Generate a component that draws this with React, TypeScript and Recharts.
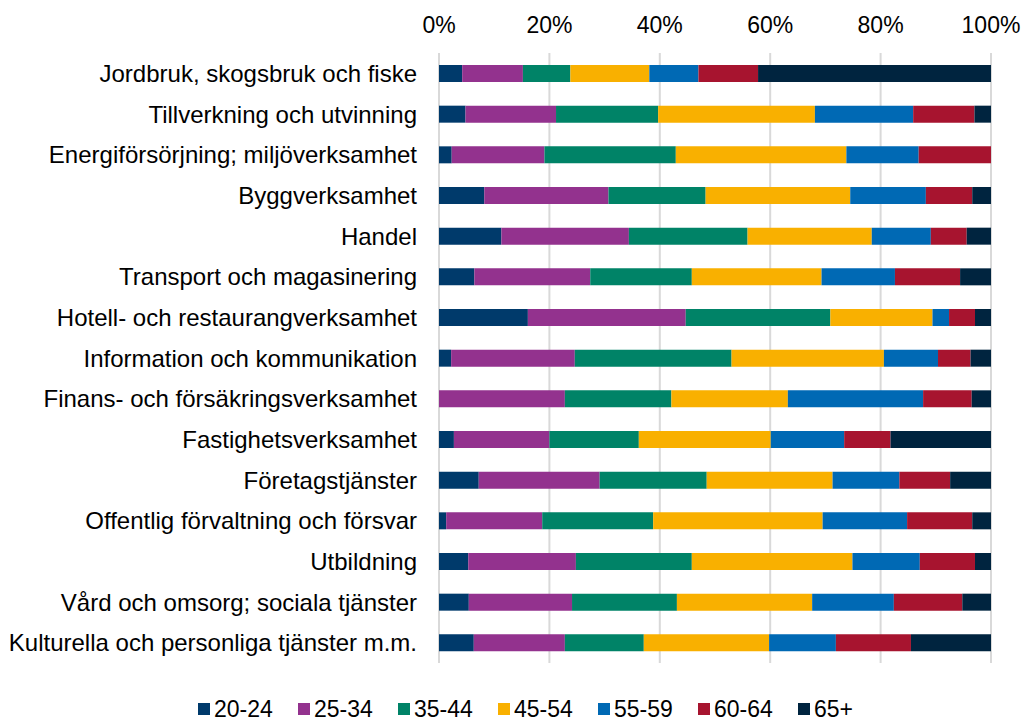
import React from 'react';
import { BarChart, Bar, XAxis, YAxis, CartesianGrid, Legend } from 'recharts';

const categories = [
  'Jordbruk, skogsbruk och fiske',
  'Tillverkning och utvinning',
  'Energiförsörjning; miljöverksamhet',
  'Byggverksamhet',
  'Handel',
  'Transport och magasinering',
  'Hotell- och restaurangverksamhet',
  'Information och kommunikation',
  'Finans- och försäkringsverksamhet',
  'Fastighetsverksamhet',
  'Företagstjänster',
  'Offentlig förvaltning och försvar',
  'Utbildning',
  'Vård och omsorg; sociala tjänster',
  'Kulturella och personliga tjänster m.m.',
];

const age20_24 = [4.2, 4.8, 2.3, 8.2, 11.3, 6.4, 16.1, 2.2, 0, 2.7, 7.2, 1.3, 5.3, 5.4, 6.3];
const age25_34 = [11.0, 16.4, 16.8, 22.5, 23.1, 21.0, 28.6, 22.4, 22.8, 17.3, 21.9, 17.4, 19.5, 18.7, 16.5];
const age35_44 = [8.6, 18.5, 23.8, 17.6, 21.5, 18.4, 26.2, 28.4, 19.3, 16.2, 19.4, 20.1, 21.0, 19.0, 14.3];
const age45_54 = [14.3, 28.4, 30.9, 26.2, 22.5, 23.5, 18.5, 27.6, 21.1, 23.9, 22.8, 30.7, 29.1, 24.5, 22.7];
const age55_59 = [8.9, 17.8, 13.1, 13.7, 10.7, 13.3, 3.0, 9.8, 24.5, 13.3, 12.1, 15.3, 12.2, 14.8, 12.1];
const age60_64 = [10.8, 11.1, 13.1, 8.4, 6.5, 11.8, 4.7, 5.9, 8.8, 8.4, 9.2, 11.8, 10.0, 12.4, 13.6];
const age65plus = [42.2, 3.0, 0, 3.4, 4.4, 5.6, 2.9, 3.7, 3.5, 18.2, 7.4, 3.4, 2.9, 5.2, 14.5];

const xTicks = [0, 0.2, 0.4, 0.6, 0.8, 1];

const series = [
  { key: '20-24', values: age20_24, color: '#003A6B' },
  { key: '25-34', values: age25_34, color: '#93328E' },
  { key: '35-44', values: age35_44, color: '#008367' },
  { key: '45-54', values: age45_54, color: '#F9B000' },
  { key: '55-59', values: age55_59, color: '#0069B4' },
  { key: '60-64', values: age60_64, color: '#A7142F' },
  { key: '65+', values: age65plus, color: '#00243F' },
];

const data = categories.map((name, i) => {
  const row: Record<string, string | number> = { name };
  series.forEach((s) => {
    row[s.key] = s.values[i];
  });
  return row;
});

const font = 'Liberation Sans, Arial, sans-serif';

const LegendContent = () => (
  <div style={{ display: 'flex', height: 24, paddingLeft: 198, fontFamily: font, fontSize: 23, color: '#000' }}>
    {series.map((s) => (
      <div key={s.key} style={{ width: 100, height: 24, display: 'flex', alignItems: 'center', lineHeight: '24px' }}>
        <span style={{ width: 12, height: 12, background: s.color, marginRight: 4, display: 'inline-block' }} />
        <span>{s.key}</span>
      </div>
    ))}
  </div>
);

export default function App() {
  return (
    <div style={{ position: 'absolute', left: 0, top: 0, width: 1025, height: 722, background: '#fff' }}>
      <BarChart
        width={1025}
        height={722}
        data={data}
        layout="vertical"
        stackOffset="expand"
        barSize={17}
        margin={{ top: 0, right: 34, bottom: 35, left: 0 }}
      >
        <CartesianGrid horizontal={false} stroke="#D9D9D9" strokeWidth={2} />
        <XAxis
          type="number"
          orientation="top"
          domain={[0, 1]}
          ticks={xTicks}
          interval={0}
          height={53}
          tickFormatter={(v: number) => `${Math.round(v * 100)}%`}
          tick={{ fill: '#000', fontSize: 23, fontFamily: font }}
          axisLine={false}
          tickLine={false}
          tickSize={0}
          tickMargin={20}
        />
        <YAxis
          type="category"
          dataKey="name"
          width={439}
          interval={0}
          tick={{ fill: '#000', fontSize: 24, fontFamily: font }}
          axisLine={false}
          tickLine={false}
          tickSize={0}
          tickMargin={22}
        />
        <Legend
          content={<LegendContent />}
          wrapperStyle={{ top: 697, left: 0, bottom: 'auto', width: 1025, height: 24 }}
        />
        {series.map((s) => (
          <Bar key={s.key} dataKey={s.key} stackId="a" fill={s.color} isAnimationActive={false} />
        ))}
      </BarChart>
    </div>
  );
}
